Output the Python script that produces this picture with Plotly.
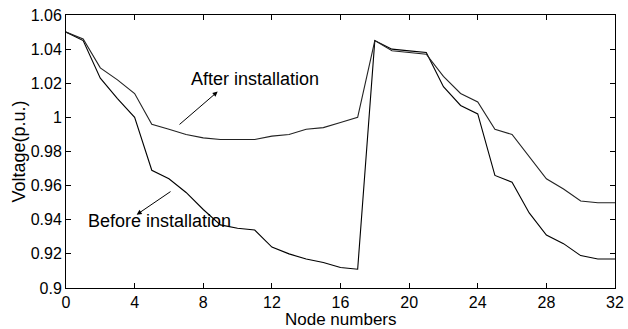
import plotly.graph_objects as go

nodes = list(range(33))
before = [1.050, 1.045, 1.023, 1.011, 1.000, 0.969, 0.964, 0.956, 0.946, 0.937,
          0.935, 0.934, 0.924, 0.920, 0.917, 0.915, 0.912, 0.911, 1.045, 1.040,
          1.039, 1.038, 1.018, 1.007, 1.002, 0.966, 0.962, 0.944, 0.931, 0.926,
          0.919, 0.917, 0.917]
after = [1.050, 1.046, 1.029, 1.022, 1.014, 0.996, 0.993, 0.990, 0.988, 0.987,
         0.987, 0.987, 0.989, 0.990, 0.993, 0.994, 0.997, 1.000, 1.045, 1.039,
         1.038, 1.037, 1.024, 1.014, 1.009, 0.993, 0.990, 0.977, 0.964, 0.958,
         0.951, 0.950, 0.950]

x_ticks = [0, 4, 8, 12, 16, 20, 24, 28, 32]
y_ticks = [0.9, 0.92, 0.94, 0.96, 0.98, 1.0, 1.02, 1.04, 1.06]
y_tick_text = ["0.9", "0.92", "0.94", "0.96", "0.98", "1", "1.02", "1.04", "1.06"]

font_family = "Liberation Sans, Arial, sans-serif"
fs = 18
tick_fs = 16

fig = go.Figure()
fig.add_trace(go.Scatter(x=nodes, y=before, mode="lines",
                         line=dict(color="black", width=1.1), showlegend=False))
fig.add_trace(go.Scatter(x=nodes, y=after, mode="lines",
                         line=dict(color="#222222", width=1.1), showlegend=False))

fig.add_annotation(x=8.84, y=1.0151, ax=6.53, ay=0.9951, xref="x", yref="y",
                   axref="x", ayref="y", showarrow=True, arrowhead=2,
                   arrowsize=1, arrowwidth=1, arrowcolor="black", text="")
fig.add_annotation(x=4.12, y=0.943, ax=6.18, ay=0.9571, xref="x", yref="y",
                   axref="x", ayref="y", showarrow=True, arrowhead=2,
                   arrowsize=1, arrowwidth=1, arrowcolor="black", text="")
fig.add_annotation(x=11.01, y=1.0226, text="After installation", showarrow=False,
                   font=dict(size=fs, color="black", family=font_family))
fig.add_annotation(x=5.43, y=0.9391, text="Before installation", showarrow=False,
                   font=dict(size=fs, color="black", family=font_family))

# axis titles placed as paper annotations
fig.add_annotation(x=0.5, y=0, xref="paper", yref="paper", yanchor="middle",
                   yshift=-31, borderpad=0, text="Node numbers", showarrow=False,
                   font=dict(size=17, color="black", family=font_family))
fig.add_annotation(x=0, y=0.5, xref="paper", yref="paper", xanchor="center",
                   xshift=-48, textangle=-90, text="Voltage(p.u.)", showarrow=False,
                   font=dict(size=fs, color="black", family=font_family))

axis_common = dict(showline=True, linecolor="black", linewidth=1, mirror="allticks",
                   ticks="inside", ticklen=5, tickcolor="black", showgrid=False,
                   zeroline=False, automargin=False,
                   tickfont=dict(size=tick_fs, color="black", family=font_family))

fig.update_xaxes(range=[0, 32], tickvals=x_ticks, ticktext=[str(v) for v in x_ticks],
                 **axis_common)
fig.update_yaxes(range=[0.9, 1.06], tickvals=y_ticks, ticktext=y_tick_text,
                 **axis_common)

fig.update_layout(width=628, height=329, margin=dict(l=66, r=13, t=15, b=41),
                  paper_bgcolor="white", plot_bgcolor="white",
                  font=dict(family=font_family, color="black"))

fig.write_html("out.html", config={"displayModeBar": False},
               post_script="document.body.style.margin='0';document.body.style.overflow='hidden';")
